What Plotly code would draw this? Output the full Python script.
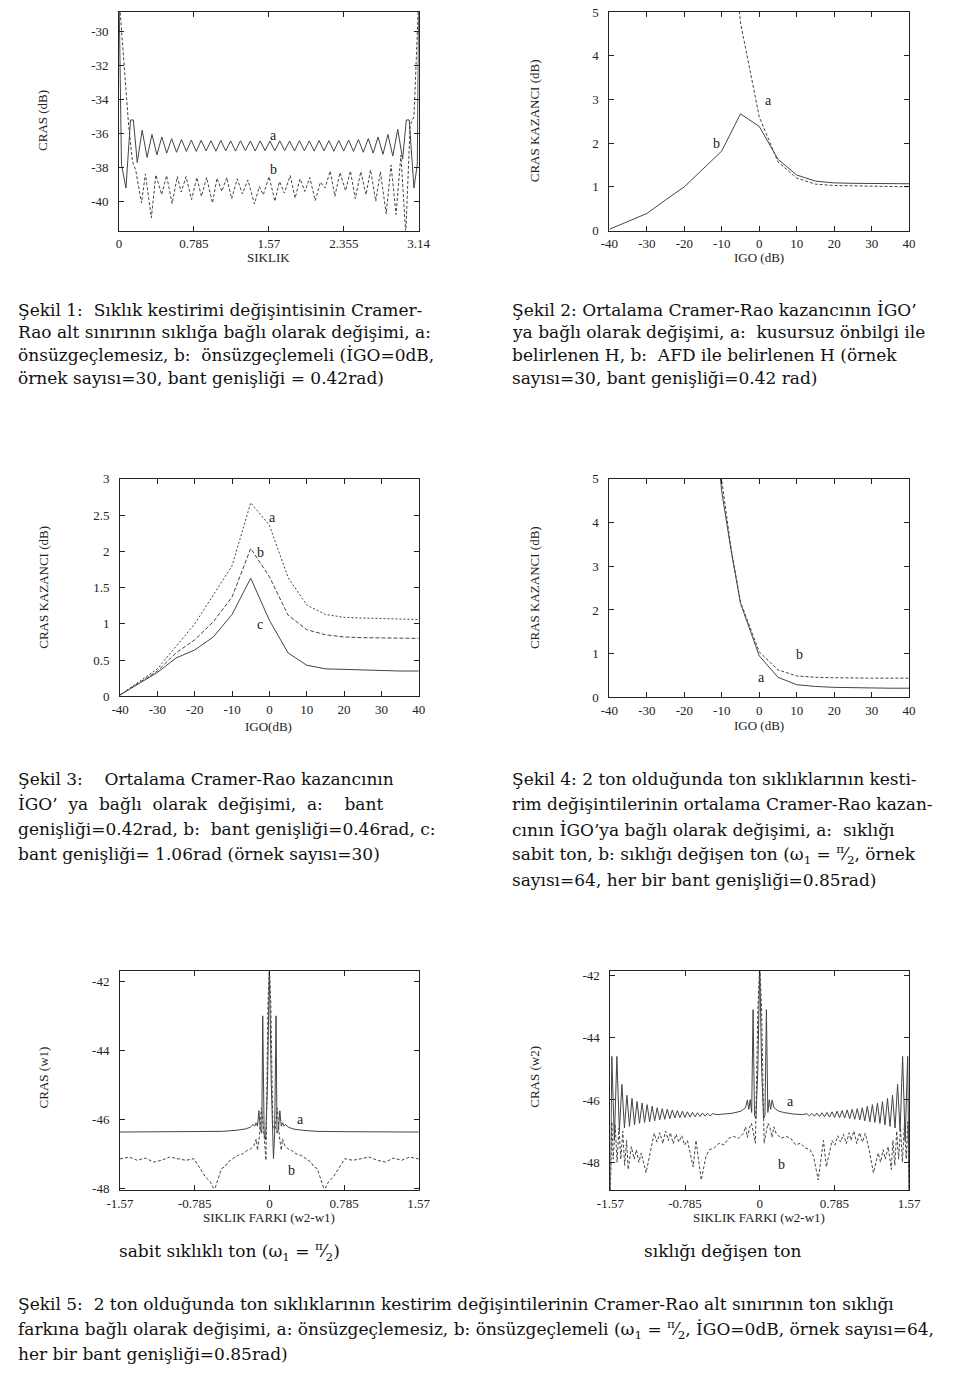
import plotly.graph_objects as go

W, H = 960, 1377

# ---------------- data ----------------
# Figure 1 : CRAS (dB) vs SIKLIK
f1_a_x = [0.0, 0.025, 0.072, 0.12, 0.15, 0.1905,
          0.242, 0.2935, 0.345, 0.3965, 0.448, 0.4995, 0.551, 0.6025, 0.654, 0.7055,
          0.757, 0.8085, 0.860, 0.9115, 0.963, 1.0145, 1.066, 1.1175, 1.169, 1.2205,
          1.272, 1.3235, 1.375, 1.4265, 1.478, 1.5295, 1.581, 1.6325, 1.684, 1.7355,
          1.787, 1.8385, 1.890, 1.9415, 1.993, 2.0445, 2.096, 2.1475, 2.199, 2.2505,
          2.302, 2.3535, 2.405, 2.4565, 2.508, 2.5595, 2.611, 2.6625, 2.714, 2.7655,
          2.817, 2.8685, 2.920, 2.9715,
          3.01, 3.04, 3.09, 3.125, 3.14]
f1_a_y = [-28.0, -37.8, -39.2, -35.2, -35.2, -37.7,
          -35.8, -37.4, -36.05, -37.25, -36.2, -37.15, -36.3, -37.1, -36.35, -37.05,
          -36.38, -37.05, -36.4, -37.02, -36.42, -37.04, -36.4, -37.02, -36.43, -37.03,
          -36.42, -37.0, -36.44, -37.02, -36.43, -37.0, -36.45, -37.01, -36.43, -37.0,
          -36.44, -37.02, -36.42, -37.01, -36.43, -37.03, -36.41, -37.02, -36.42, -37.04,
          -36.4, -37.03, -36.38, -37.05, -36.35, -37.1, -36.3, -37.15, -36.2, -37.22,
          -36.05, -37.32, -35.75, -37.5,
          -35.2, -35.2, -39.2, -37.8, -28.0]
f1_b_x = [0.0, 0.1, 0.14, 0.174, 0.235, 0.276, 0.338, 0.385, 0.447, 0.498,
          0.556, 0.610, 0.651, 0.702, 0.760, 0.815, 0.863, 0.917, 0.979, 1.026,
          1.077, 1.128, 1.180, 1.238, 1.292, 1.350, 1.418, 1.470, 1.511, 1.572,
          1.633, 1.681, 1.732, 1.793, 1.845, 1.896, 1.947, 1.998, 2.056, 2.110,
          2.158, 2.213, 2.261, 2.315, 2.373, 2.424, 2.475, 2.533, 2.588, 2.635,
          2.690, 2.738, 2.799, 2.850, 2.902, 2.953, 3.004, 3.05, 3.09, 3.14]
f1_b_y = [-28.0, -35.5, -37.65, -38.14, -40.08, -38.37, -40.95, -38.43, -39.59, -38.47,
          -40.12, -38.53, -39.44, -38.53, -39.88, -38.58, -39.69, -38.58, -40.08, -38.62,
          -39.40, -38.58, -39.84, -38.66, -39.55, -38.72, -40.14, -39.11, -39.6, -38.53,
          -39.98, -38.82, -39.50, -38.47, -39.79, -38.66, -39.40, -38.58, -39.94, -38.86,
          -39.20, -38.20, -39.69, -38.29, -39.36, -38.20, -39.83, -38.24, -39.59, -38.14,
          -39.98, -38.24, -40.72, -37.85, -40.76, -37.27, -41.9, -35.5, -35.0, -28.0]
f1_xticks = [0, 0.785, 1.57, 2.355, 3.14]
f1_xlabels = ["0", "0.785", "1.57", "2.355", "3.14"]
f1_yticks = [-30, -32, -34, -36, -38, -40]
f1_ylabels = ["-30", "-32", "-34", "-36", "-38", "-40"]

# Figure 2 : CRAS KAZANCI vs IGO
igo = [-40, -35, -30, -25, -20, -15, -10, -5, 0, 5, 10, 15, 20, 25, 30, 35, 40]
f2_b = [0.03, 0.21, 0.39, 0.7, 1.0, 1.41, 1.82, 2.67, 2.38, 1.63, 1.27, 1.13, 1.09, 1.08, 1.08, 1.07, 1.07]
f2_a_x = [-10, -5, 0, 5, 10, 15, 20, 30, 40]
f2_a = [9.0, 4.75, 2.6, 1.57, 1.2, 1.06, 1.03, 1.01, 1.0]

# Figure 3 : three bandwidths
f3_a = [0.02, 0.2, 0.38, 0.69, 1.0, 1.4, 1.8, 2.67, 2.36, 1.64, 1.26, 1.13, 1.09, 1.08, 1.07, 1.07, 1.06]
f3_b = [0.02, 0.19, 0.35, 0.6, 0.78, 1.03, 1.37, 2.04, 1.65, 1.12, 0.92, 0.85, 0.82, 0.81, 0.81, 0.8, 0.8]
f3_c = [0.02, 0.18, 0.33, 0.53, 0.64, 0.82, 1.13, 1.63, 1.05, 0.6, 0.43, 0.38, 0.37, 0.36, 0.36, 0.35, 0.35]
f3_yticks = [0, 0.5, 1, 1.5, 2, 2.5, 3]
f3_ylabels = ["0", "0.5", "1", "1.5", "2", "2.5", "3"]

# Figure 4 : two tones
f4_x = [-15, -10, -7.5, -5, 0, 5, 10, 15, 20, 25, 30, 35, 40]
f4_a = [9.0, 4.7, 3.35, 2.15, 0.95, 0.46, 0.29, 0.25, 0.23, 0.22, 0.22, 0.21, 0.21]
f4_b = [9.5, 4.95, 3.4, 2.18, 1.04, 0.63, 0.49, 0.46, 0.45, 0.44, 0.44, 0.44, 0.44]
igo_ticks = [-40, -30, -20, -10, 0, 10, 20, 30, 40]
igo_labels = ["-40", "-30", "-20", "-10", "0", "10", "20", "30", "40"]
gain_ticks = [0, 1, 2, 3, 4, 5]
gain_labels = ["0", "1", "2", "3", "4", "5"]

# Figure 5 : CRAS (w1) vs SIKLIK FARKI
f5_a_x = [-1.57, -1.2, -0.8, -0.5, -0.35, -0.25, -0.2, -0.17, -0.155, -0.14, -0.125, -0.11,
          -0.095, -0.08, -0.07, -0.055, -0.04, -0.02, 0.0, 0.02, 0.043, 0.055, 0.07, 0.08,
          0.095, 0.11, 0.125, 0.14, 0.155, 0.17, 0.2, 0.25, 0.35, 0.5, 0.8, 1.2, 1.57]
f5_a_y = [-46.37, -46.37, -46.36, -46.35, -46.32, -46.28, -46.23, -46.15, -46.2, -46.1, -46.2, -45.75,
          -46.3, -46.4, -43.0, -46.45, -46.6, -45.0, -41.6, -45.0, -47.14, -46.45, -43.0, -46.4,
          -46.3, -45.75, -46.2, -46.1, -46.2, -46.15, -46.23, -46.28, -46.32, -46.35, -46.36, -46.37, -46.37]
f5_b_x = [-1.57, -1.475, -1.389, -1.304, -1.219, -1.134, -1.048, -0.963, -0.878, -0.793,
          -0.759, -0.725, -0.673, -0.622, -0.588, -0.571, -0.537, -0.503, -0.469, -0.435,
          -0.384, -0.333, -0.281, -0.230, -0.196, -0.162, -0.138, -0.125, -0.104, -0.084,
          -0.060, -0.036, -0.015, 0.0,
          0.015, 0.036, 0.060, 0.084, 0.104, 0.125, 0.138, 0.162, 0.196, 0.230,
          0.281, 0.333, 0.384, 0.435, 0.469, 0.503, 0.537, 0.571, 0.588, 0.622,
          0.673, 0.725, 0.759, 0.793, 0.878, 0.963, 1.048, 1.134, 1.219, 1.304,
          1.389, 1.475, 1.57]
f5_b_y = [-47.15, -47.095, -47.19, -47.124, -47.24, -47.19, -47.095, -47.143, -47.19, -47.143,
          -47.29, -47.43, -47.67, -47.81, -48.0, -48.0, -47.71, -47.43, -47.38, -47.24,
          -47.14, -47.05, -47.0, -46.9, -46.86, -46.76, -46.57, -46.9, -46.48, -45.67,
          -46.29, -47.19, -42.67, -41.6,
          -42.67, -46.2, -46.29, -45.67, -46.48, -46.9, -46.57, -46.76, -46.86, -46.9,
          -47.0, -47.05, -47.14, -47.24, -47.38, -47.43, -47.71, -48.0, -48.0, -47.81,
          -47.67, -47.43, -47.29, -47.143, -47.19, -47.143, -47.095, -47.19, -47.24, -47.124,
          -47.19, -47.095, -47.15]
f56_xticks = [-1.57, -0.785, 0, 0.785, 1.57]
f56_xlabels = ["-1.57", "-0.785", "0", "0.785", "1.57"]
f56_yticks = [-42, -44, -46, -48]
f56_ylabels = ["-42", "-44", "-46", "-48"]

# Figure 6 : CRAS (w2) vs SIKLIK FARKI
f6_a_x = [-1.57, -1.555, -1.5285, -1.502, -1.4755, -1.449, -1.4225, -1.396, -1.3695, -1.343,
          -1.3165, -1.290, -1.2635, -1.237, -1.2105, -1.184, -1.1575, -1.131, -1.1045, -1.078,
          -1.0515, -1.025, -0.9985, -0.972, -0.9455, -0.919, -0.8925, -0.866, -0.8395, -0.813,
          -0.7865, -0.760, -0.7335, -0.707, -0.6805, -0.654, -0.6275, -0.601, -0.5745, -0.548,
          -0.5215, -0.495, -0.45, -0.4, -0.35, -0.3, -0.25, -0.2, -0.17, -0.15,
          -0.13, -0.115, -0.10, -0.085, -0.07, -0.055, -0.04, -0.02, 0.0,
          0.02, 0.04, 0.055, 0.07, 0.085, 0.10, 0.115, 0.13, 0.15, 0.17,
          0.2, 0.25, 0.3, 0.35, 0.4, 0.45, 0.495, 0.5215, 0.548, 0.5745,
          0.601, 0.6275, 0.654, 0.6805, 0.707, 0.7335, 0.760, 0.7865, 0.813, 0.8395,
          0.866, 0.8925, 0.919, 0.9455, 0.972, 0.9985, 1.025, 1.0515, 1.078, 1.1045,
          1.131, 1.1575, 1.184, 1.2105, 1.237, 1.2635, 1.290, 1.3165, 1.343, 1.3695,
          1.396, 1.4225, 1.449, 1.4755, 1.502, 1.5285, 1.555, 1.57]
f6_a_y = [-48.9, -44.6, -47.3, -44.6, -47.0, -45.5, -46.9, -45.85, -46.85, -45.95,
          -46.8, -46.05, -46.75, -46.1, -46.72, -46.15, -46.7, -46.2, -46.67, -46.25,
          -46.64, -46.28, -46.62, -46.3, -46.6, -46.32, -46.58, -46.34, -46.57, -46.36,
          -46.56, -46.38, -46.55, -46.4, -46.54, -46.41, -46.53, -46.42, -46.52, -46.43,
          -46.51, -46.44, -46.47, -46.46, -46.45, -46.43, -46.4, -46.36, -46.3, -46.25,
          -46.0, -46.3, -45.99, -46.4, -43.1, -46.5, -46.6, -45.0, -41.7,
          -45.0, -46.6, -46.5, -43.1, -46.4, -45.99, -46.3, -46.0, -46.25, -46.3,
          -46.36, -46.4, -46.43, -46.45, -46.46, -46.47, -46.44, -46.51, -46.43, -46.52,
          -46.42, -46.53, -46.41, -46.54, -46.4, -46.55, -46.38, -46.56, -46.36, -46.57,
          -46.34, -46.58, -46.32, -46.6, -46.3, -46.62, -46.28, -46.64, -46.25, -46.67,
          -46.2, -46.7, -46.15, -46.72, -46.1, -46.75, -46.05, -46.8, -45.95, -46.85,
          -45.85, -46.9, -45.5, -47.0, -44.6, -47.3, -44.6, -48.9]
f6_b_x = [-1.57, -1.555, -1.54, -1.52, -1.50, -1.48, -1.46, -1.44, -1.42, -1.40,
          -1.383, -1.35, -1.32, -1.297, -1.27, -1.246, -1.195, -1.15, -1.11, -1.08,
          -1.05, -1.02, -0.99, -0.96, -0.94, -0.91, -0.88, -0.85, -0.82, -0.79,
          -0.76, -0.70, -0.67, -0.615, -0.565, -0.53, -0.479, -0.428, -0.377, -0.326,
          -0.275, -0.223, -0.172, -0.148, -0.13, -0.104, -0.087, -0.07, -0.046, -0.019, 0.0,
          0.019, 0.046, 0.07, 0.087, 0.104, 0.13, 0.148, 0.172, 0.223, 0.275,
          0.326, 0.377, 0.428, 0.479, 0.53, 0.565, 0.615, 0.67, 0.70, 0.76,
          0.79, 0.82, 0.85, 0.88, 0.91, 0.94, 0.96, 0.99, 1.02, 1.05,
          1.08, 1.11, 1.15, 1.195, 1.246, 1.27, 1.297, 1.32, 1.35, 1.383,
          1.40, 1.42, 1.44, 1.46, 1.48, 1.50, 1.52, 1.54, 1.555, 1.57]
f6_b_y = [-48.9, -46.7, -47.9, -46.8, -48.0, -46.9, -47.9, -47.0, -48.1, -47.3,
          -48.23, -47.5, -47.9, -47.6, -48.0, -47.7, -48.34, -47.6, -47.07, -47.35,
          -47.05, -47.4, -47.0, -47.3, -47.05, -47.4, -47.1, -47.35, -47.15, -47.45,
          -47.3, -48.15, -47.3, -48.57, -47.81, -47.6, -47.54, -47.39, -47.44, -47.23,
          -47.17, -47.23, -47.07, -46.86, -47.2, -46.86, -46.75, -47.0, -47.39, -43.0, -41.7,
          -43.0, -47.39, -47.0, -46.75, -46.86, -47.2, -46.86, -47.07, -47.23, -47.17,
          -47.23, -47.44, -47.39, -47.54, -47.6, -47.81, -48.57, -47.3, -48.15, -47.3,
          -47.45, -47.15, -47.35, -47.1, -47.4, -47.05, -47.3, -47.0, -47.4, -47.05,
          -47.35, -47.07, -47.6, -48.34, -47.7, -48.0, -47.6, -47.9, -47.5, -48.23,
          -47.3, -48.1, -47.0, -47.9, -46.9, -48.0, -46.8, -47.9, -46.7, -48.9]

# ---------------- layout helpers ----------------
LINE = "#444444"
AX = "#222222"
SERIF = "Liberation Serif"
CAPFONT = "DejaVu Serif"


def px_dom_x(a, b):
    return [a / W, b / W]


def px_dom_y(top, bottom):
    return [1 - bottom / H, 1 - top / H]


def axis(dom, rng, tickvals, ticktext, standoff=1):
    return dict(domain=dom, range=rng, tickvals=tickvals, ticktext=ticktext,
                showline=True, linecolor=AX, linewidth=1, mirror="ticks",
                ticks="inside", ticklen=5, tickcolor=AX, showgrid=False,
                zeroline=False, ticklabelstandoff=standoff, fixedrange=True,
                tickfont=dict(family=SERIF, size=13, color=AX))


fig = go.Figure()

solid = dict(color=LINE, width=1)
dashed = dict(color=LINE, width=1, dash="3px,2px")
dotted = dict(color=LINE, width=1, dash="2px,2px")
dash2 = dict(color=LINE, width=1, dash="4px,2px")

traces = [
    (f1_a_x, f1_a_y, solid, "x", "y"),
    (f1_b_x, f1_b_y, dashed, "x", "y"),
    (f2_a_x, f2_a, dashed, "x2", "y2"),
    (igo, f2_b, solid, "x2", "y2"),
    (igo, f3_a, dotted, "x3", "y3"),
    (igo, f3_b, dash2, "x3", "y3"),
    (igo, f3_c, solid, "x3", "y3"),
    (f4_x, f4_a, solid, "x4", "y4"),
    (f4_x, f4_b, dashed, "x4", "y4"),
    (f5_a_x, f5_a_y, solid, "x5", "y5"),
    (f5_b_x, f5_b_y, dashed, "x5", "y5"),
    (f6_a_x, f6_a_y, solid, "x6", "y6"),
    (f6_b_x, f6_b_y, dashed, "x6", "y6"),
]
for xs, ys, ln, xa, ya in traces:
    fig.add_trace(go.Scatter(x=xs, y=ys, mode="lines", line=ln, xaxis=xa, yaxis=ya,
                             showlegend=False, hoverinfo="skip"))

layout = dict(
    width=W, height=H, margin=dict(l=0, r=0, t=0, b=0, pad=0),
    paper_bgcolor="white", plot_bgcolor="white", showlegend=False,
    xaxis=axis(px_dom_x(108, 416), [0, 3.14], f1_xticks, f1_xlabels),
    yaxis=axis(px_dom_y(5, 226), [-41.7, -28.85], f1_yticks, f1_ylabels, standoff=7),
    xaxis2=axis(px_dom_x(612, 920), [-40, 40], igo_ticks, igo_labels),
    yaxis2=axis(px_dom_y(5, 226), [0, 5], gain_ticks, gain_labels, standoff=7),
    xaxis3=axis(px_dom_x(109, 416), [-40, 40], igo_ticks, igo_labels),
    yaxis3=axis(px_dom_y(477, 697), [0, 3], f3_yticks, f3_ylabels, standoff=7),
    xaxis4=axis(px_dom_x(612, 920), [-40, 40], igo_ticks, igo_labels),
    yaxis4=axis(px_dom_y(477, 698), [0, 5], gain_ticks, gain_labels, standoff=7),
    xaxis5=axis(px_dom_x(109, 416), [-1.57, 1.57], f56_xticks, f56_xlabels),
    yaxis5=axis(px_dom_y(975, 1196), [-48.05, -41.71], f56_yticks, f56_ylabels, standoff=7),
    xaxis6=axis(px_dom_x(613, 920), [-1.57, 1.57], f56_xticks, f56_xlabels),
    yaxis6=axis(px_dom_y(975, 1196), [-48.89, -41.87], f56_yticks, f56_ylabels, standoff=7),
)
for i in range(1, 7):
    xk = "xaxis" if i == 1 else f"xaxis{i}"
    yk = "yaxis" if i == 1 else f"yaxis{i}"
    layout[xk]["anchor"] = "y" if i == 1 else f"y{i}"
    layout[yk]["anchor"] = "x" if i == 1 else f"x{i}"
fig.update_layout(**layout)

ann = []


def ptext(text, px, py, size=13, angle=0, xanchor="center", family=SERIF, color=AX):
    ann.append(dict(text=text, x=px / W, y=1 - py / H, xref="paper", yref="paper",
                    xanchor=xanchor, yanchor="middle", showarrow=False, textangle=angle,
                    borderpad=0, font=dict(family=family, size=size, color=color)))


def dtext(text, x, y, xr, yr):
    ann.append(dict(text=text, x=x, y=y, xref=xr, yref=yr, showarrow=False,
                    xanchor="center", yanchor="middle",
                    font=dict(family=SERIF, size=14, color=AX)))


# axis titles
ptext("CRAS (dB)", 30, 115, angle=-90)
ptext("SIKLIK", 262, 253)
ptext("CRAS KAZANCI (dB)", 535, 115, angle=-90)
ptext("IGO (dB)", 766, 253)
ptext("CRAS KAZANCI (dB)", 30, 587, angle=-90)
ptext("IGO(dB)", 262, 727)
ptext("CRAS KAZANCI (dB)", 535, 587, angle=-90)
ptext("IGO (dB)", 766, 726)
ptext("CRAS (w1)", 30, 1082, angle=-90)
ptext("SIKLIK FARKI (w2-w1)", 262, 1224)
ptext("CRAS (w2)", 535, 1082, angle=-90)
ptext("SIKLIK FARKI (w2-w1)", 766, 1224)

# curve labels
dtext("a", 1.613, -36.1, "x", "y")
dtext("b", 1.613, -38.1, "x", "y")
dtext("a", 2.55, 2.98, "x2", "y2")
dtext("b", -11.3, 1.99, "x2", "y2")
dtext("a", 0.78, 2.46, "x3", "y3")
dtext("b", -2.26, 1.98, "x3", "y3")
dtext("c", -2.4, 0.99, "x3", "y3")
dtext("b", 10.8, 0.99, "x4", "y4")
dtext("a", 0.64, 0.46, "x4", "y4")
dtext("a", 0.332, -46.0, "x5", "y5")
dtext("b", 0.23, -47.48, "x5", "y5")
dtext("a", 0.322, -46.06, "x6", "y6")
dtext("b", 0.23, -48.07, "x6", "y6")

# captions
CAP = 17
frac = "<sup>π</sup>⁄<sub>2</sub>"
cap1 = ["Şekil 1:  Sıklık kestirimi değişintisinin Cramer-",
        "Rao alt sınırının sıklığa bağlı olarak değişimi, a:",
        "önsüzgeçlemesiz, b:  önsüzgeçlemeli (İGO=0dB,",
        "örnek sayısı=30, bant genişliği = 0.42rad)"]
cap2 = ["Şekil 2: Ortalama Cramer-Rao kazancının İGO’",
        "ya bağlı olarak değişimi, a:  kusursuz önbilgi ile",
        "belirlenen H, b:  AFD ile belirlenen H (örnek",
        "sayısı=30, bant genişliği=0.42 rad)"]
cap3 = ["Şekil 3:    Ortalama Cramer-Rao kazancının",
        "İGO’  ya  bağlı  olarak  değişimi,  a:    bant",
        "genişliği=0.42rad, b:  bant genişliği=0.46rad, c:",
        "bant genişliği= 1.06rad (örnek sayısı=30)"]
cap4 = ["Şekil 4: 2 ton olduğunda ton sıklıklarının kesti-",
        "rim değişintilerinin ortalama Cramer-Rao kazan-",
        "cının İGO’ya bağlı olarak değişimi, a:  sıklığı",
        "sabit ton, b: sıklığı değişen ton (ω<sub>1</sub> = " + frac + ", örnek",
        "sayısı=64, her bir bant genişliği=0.85rad)"]
cap5 = ["Şekil 5:  2 ton olduğunda ton sıklıklarının kestirim değişintilerinin Cramer-Rao alt sınırının ton sıklığı",
        "farkına bağlı olarak değişimi, a: önsüzgeçlemesiz, b: önsüzgeçlemeli (ω<sub>1</sub> = " + frac + ", İGO=0dB, örnek sayısı=64,",
        "her bir bant genişliği=0.85rad)"]

for t, yy in zip(cap1, [306, 329, 352, 375]):
    ptext(t, 3, yy, size=CAP, xanchor="left", family=CAPFONT, color="#111")
for t, yy in zip(cap2, [306, 329, 352, 375]):
    ptext(t, 511, yy, size=CAP, xanchor="left", family=CAPFONT, color="#111")
for t, yy in zip(cap3, [781, 806, 831, 856]):
    ptext(t, 3, yy, size=CAP, xanchor="left", family=CAPFONT, color="#111")
for t, yy in zip(cap4, [781, 806, 832, 857, 883]):
    ptext(t, 511, yy, size=CAP, xanchor="left", family=CAPFONT, color="#111")
ptext("sabit sıklıklı ton (ω<sub>1</sub> = " + frac + ")", 221, 1258, size=CAP, family=CAPFONT, color="#111")
ptext("sıklığı değişen ton", 729, 1258, size=CAP, family=CAPFONT, color="#111")
for t, yy in zip(cap5, [1311, 1337, 1362]):
    ptext(t, 3, yy, size=CAP, xanchor="left", family=CAPFONT, color="#111")

fig.update_layout(annotations=ann)
fig.write_html("out.html", config={"displayModeBar": False},
               post_script="document.body.style.margin='0px';"
                           "document.body.style.overflow='hidden';")
